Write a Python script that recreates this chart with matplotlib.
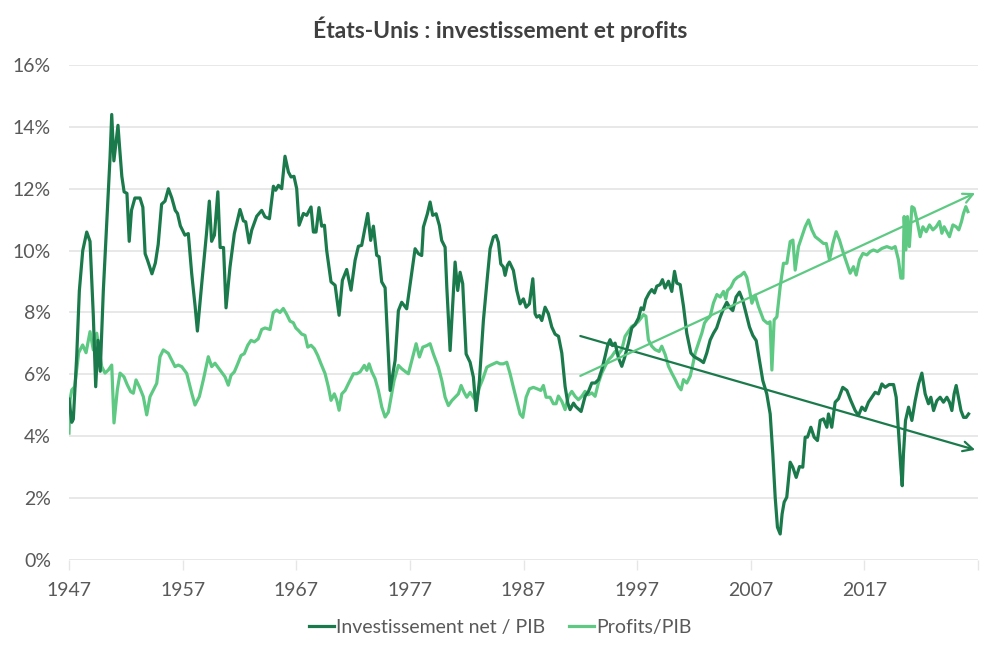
import numpy as np
import matplotlib
matplotlib.use("Agg")
import matplotlib.pyplot as plt
import matplotlib.ticker as mtick

# ── Couleurs ──────────────────────────────────────────────────────────────────
C_INV = "#1b7a4b"
C_PROF = "#5ec983"
C_GRID = "#e6e6e6"
C_TXT = "#595959"
FONT = "Lato"

plt.rcParams["font.family"] = [FONT, "DejaVu Sans"]

# ── Données ───────────────────────────────────────────────────────────────────
annees_inv = [
    1947.0, 1947.24, 1947.38, 1947.68, 1947.91, 1948.21, 1948.56, 1948.85, 1949.14, 1949.35,
    1949.55, 1949.75, 1950.02, 1950.32, 1950.61, 1950.76, 1950.95, 1951.31, 1951.45, 1951.65,
    1951.85, 1952.1, 1952.3, 1952.5, 1952.8, 1953.25, 1953.5, 1953.7, 1953.9, 1954.3,
    1954.6, 1954.85, 1955.15, 1955.45, 1955.75, 1956.05, 1956.35, 1956.55, 1956.8, 1957.2,
    1957.5, 1957.8, 1958.1, 1958.3, 1958.7, 1959.1, 1959.35, 1959.55, 1959.8, 1960.1,
    1960.3, 1960.6, 1960.82, 1961.17, 1961.55, 1962.05, 1962.35, 1962.55, 1962.85, 1963.08,
    1963.52, 1963.96, 1964.25, 1964.64, 1964.99, 1965.19, 1965.43, 1965.72, 1966.01, 1966.31,
    1966.54, 1966.8, 1967.04, 1967.25, 1967.63, 1967.92, 1968.3, 1968.51, 1968.74, 1969.0,
    1969.24, 1969.48, 1969.68, 1970.06, 1970.42, 1970.77, 1971.06, 1971.44, 1971.82, 1972.18,
    1972.47, 1972.76, 1973.29, 1973.55, 1973.79, 1974.08, 1974.29, 1974.52, 1974.82, 1975.26,
    1975.7, 1975.99, 1976.28, 1976.72, 1977.07, 1977.46, 1977.75, 1978.04, 1978.19, 1978.54,
    1978.78, 1979.01, 1979.31, 1979.6, 1979.8, 1980.1, 1980.25, 1980.54, 1980.77, 1980.98,
    1981.21, 1981.42, 1981.65, 1981.95, 1982.3, 1982.59, 1982.83, 1983.12, 1983.47, 1983.82,
    1984.06, 1984.35, 1984.59, 1984.79, 1985.0, 1985.23, 1985.38, 1985.58, 1985.76, 1986.11,
    1986.41, 1986.7, 1986.99, 1987.23, 1987.52, 1987.82, 1988.02, 1988.17, 1988.4, 1988.61,
    1988.9, 1989.19, 1989.49, 1989.78, 1990.08, 1990.37, 1990.66, 1990.9, 1991.1, 1991.4,
    1991.6, 1992.07, 1992.42, 1992.72, 1993.01, 1993.3, 1993.6, 1993.89, 1994.18, 1994.42,
    1994.62, 1994.83, 1995.06, 1995.36, 1995.65, 1995.89, 1996.24, 1996.53, 1996.82, 1997.12,
    1997.35, 1997.56, 1997.76, 1998.06, 1998.29, 1998.53, 1998.73, 1999.02, 1999.23, 1999.46,
    1999.76, 2000.05, 2000.29, 2000.49, 2000.79, 2001.08, 2001.37, 2001.73, 2002.02, 2002.26,
    2002.55, 2002.84, 2003.13, 2003.43, 2003.72, 2004.0, 2004.31, 2004.6, 2004.89, 2005.13,
    2005.42, 2005.71, 2006.01, 2006.3, 2006.6, 2006.89, 2007.18, 2007.48, 2007.77, 2008.06,
    2008.41, 2008.71, 2008.94, 2009.15, 2009.35, 2009.59, 2009.76, 2009.94, 2010.17, 2010.47,
    2010.7, 2011.0, 2011.29, 2011.58, 2011.79, 2011.99, 2012.29, 2012.58, 2012.87, 2013.11,
    2013.4, 2013.7, 2013.84, 2014.13, 2014.43, 2014.72, 2015.1, 2015.46, 2015.81, 2016.19,
    2016.48, 2016.78, 2017.07, 2017.36, 2017.66, 2017.95, 2018.24, 2018.54, 2018.83, 2019.18,
    2019.57, 2019.8, 2020.0, 2020.21, 2020.33, 2020.44, 2020.62, 2020.89, 2021.18, 2021.47,
    2021.77, 2022.06, 2022.35, 2022.64, 2022.85, 2023.09, 2023.38, 2023.67, 2023.96, 2024.26,
    2024.49, 2024.7, 2024.9, 2025.08, 2025.28, 2025.5, 2025.73, 2025.96, 2026.17,
]
invest_pib = [
    5.2, 4.45, 4.55, 6.6, 8.7, 10.0, 10.6, 10.3, 7.9, 5.6,
    7.1, 6.1, 8.7, 10.9, 13.0, 14.4, 12.9, 14.05, 13.35, 12.4,
    11.9, 11.85, 10.3, 11.3, 11.7, 11.7, 11.4, 9.9, 9.7, 9.25,
    9.6, 10.2, 11.5, 11.6, 12.0, 11.7, 11.3, 11.2, 10.8, 10.5,
    10.55, 9.25, 8.2, 7.4, 9.0, 10.55, 11.6, 10.3, 10.5, 11.9,
    10.1, 10.1, 8.15, 9.47, 10.55, 11.33, 10.96, 10.93, 10.25, 10.66,
    11.11, 11.3, 11.09, 11.03, 12.08, 11.95, 12.11, 12.0, 13.05, 12.54,
    12.38, 12.4, 12.0, 10.82, 11.2, 11.14, 11.41, 10.6, 10.6, 11.39,
    10.79, 10.82, 10.0, 8.99, 8.88, 7.91, 9.04, 9.39, 8.72, 9.69,
    10.14, 10.17, 11.2, 10.33, 10.79, 9.85, 9.8, 8.99, 8.8, 5.48,
    6.45, 8.06, 8.33, 8.12, 9.03, 10.06, 9.9, 9.84, 10.76, 11.19,
    11.57, 11.14, 11.19, 10.81, 10.33, 10.11, 8.82, 6.77, 8.28, 9.63,
    8.71, 9.3, 8.93, 6.66, 6.39, 5.91, 4.83, 5.8, 7.74, 9.14,
    10.06, 10.44, 10.49, 10.27, 9.57, 9.47, 9.2, 9.52, 9.63, 9.36,
    8.71, 8.28, 8.44, 8.17, 8.28, 9.09, 7.96, 7.85, 7.9, 7.74,
    8.17, 7.96, 7.53, 7.3, 7.23, 6.69, 5.61, 5.07, 4.86, 5.07,
    4.96, 4.8, 5.29, 5.45, 5.72, 5.72, 5.83, 6.15, 6.58, 6.96,
    7.12, 6.93, 7.01, 6.53, 6.26, 6.53, 7.01, 7.5, 7.61, 7.82,
    8.15, 8.09, 8.42, 8.63, 8.74, 8.63, 8.85, 8.9, 9.06, 8.79,
    9.01, 8.68, 9.33, 8.95, 8.9, 8.2, 7.33, 6.69, 6.57, 6.52,
    6.46, 6.38, 6.69, 7.11, 7.33, 7.5, 7.85, 8.12, 8.33, 8.17,
    8.06, 8.5, 8.66, 8.39, 7.96, 7.53, 7.26, 7.09, 6.45, 5.8,
    5.37, 4.72, 3.43, 2.03, 1.06, 0.84, 1.49, 1.87, 2.03, 3.16,
    3.0, 2.67, 3.02, 3.0, 3.97, 3.97, 4.29, 3.97, 3.86, 4.51,
    4.56, 4.29, 4.72, 4.29, 5.1, 5.21, 5.58, 5.48, 5.15, 4.83,
    4.67, 4.94, 4.83, 5.1, 5.26, 5.42, 5.37, 5.69, 5.58, 5.67,
    5.67, 5.26, 4.18, 2.99, 2.4, 3.43, 4.51, 4.94, 4.51, 5.15,
    5.69, 6.04, 5.37, 5.05, 5.26, 4.83, 5.15, 5.26, 5.1, 5.26,
    5.1, 4.83, 5.37, 5.64, 5.26, 4.83, 4.61, 4.61, 4.72,
]

annees_prof = [
    1947.0, 1947.1, 1947.25, 1947.5, 1947.85, 1948.2, 1948.5, 1948.85, 1949.14, 1949.44,
    1949.88, 1950.17, 1950.46, 1950.76, 1950.96, 1951.25, 1951.49, 1951.84, 1952.13, 1952.43,
    1952.66, 1952.9, 1953.19, 1953.54, 1953.84, 1954.13, 1954.42, 1954.72, 1955.01, 1955.3,
    1955.74, 1956.04, 1956.33, 1956.62, 1956.92, 1957.36, 1957.8, 1958.09, 1958.47, 1958.82,
    1959.26, 1959.56, 1959.85, 1960.29, 1960.73, 1961.02, 1961.26, 1961.55, 1961.85, 1962.14,
    1962.43, 1962.73, 1963.02, 1963.31, 1963.66, 1963.96, 1964.25, 1964.69, 1964.98, 1965.28,
    1965.57, 1965.86, 1966.16, 1966.45, 1966.74, 1966.96, 1967.19, 1967.48, 1967.77, 1968.01,
    1968.3, 1968.59, 1968.89, 1969.18, 1969.54, 1969.83, 1970.06, 1970.35, 1970.57, 1970.77,
    1971.01, 1971.3, 1971.59, 1972.03, 1972.33, 1972.62, 1972.99, 1973.21, 1973.41, 1973.65,
    1973.94, 1974.23, 1974.53, 1974.82, 1975.11, 1975.35, 1975.61, 1975.99, 1976.29, 1976.67,
    1976.87, 1977.17, 1977.55, 1977.84, 1978.14, 1978.49, 1978.78, 1979.07, 1979.51, 1979.81,
    1980.1, 1980.39, 1980.69, 1980.98, 1981.27, 1981.51, 1981.77, 1982.01, 1982.3, 1982.59,
    1982.83, 1983.12, 1983.42, 1983.77, 1984.06, 1984.35, 1984.65, 1984.94, 1985.23, 1985.53,
    1985.82, 1986.11, 1986.41, 1986.7, 1986.94, 1987.23, 1987.52, 1987.87, 1988.22, 1988.52,
    1988.75, 1988.99, 1989.34, 1989.63, 1989.87, 1990.07, 1990.37, 1990.66, 1990.95, 1991.25,
    1991.54, 1991.83, 1992.13, 1992.42, 1992.71, 1993.01, 1993.3, 1993.59, 1993.89, 1994.18,
    1994.47, 1994.77, 1995.06, 1995.35, 1995.65, 1995.94, 1996.23, 1996.53, 1996.82, 1997.11,
    1997.35, 1997.56, 1997.77, 1997.99, 1998.29, 1998.58, 1998.94, 1999.17, 1999.47, 1999.76,
    2000.05, 2000.35, 2000.64, 2000.87, 2001.08, 2001.37, 2001.67, 2001.87, 2002.11, 2002.4,
    2002.7, 2002.93, 2003.14, 2003.43, 2003.72, 2004.02, 2004.31, 2004.6, 2004.8, 2004.95,
    2005.25, 2005.54, 2005.83, 2006.13, 2006.42, 2006.65, 2006.89, 2007.1, 2007.39, 2007.68,
    2008.12, 2008.47, 2008.7, 2008.86, 2009.06, 2009.3, 2009.59, 2009.88, 2010.18, 2010.47,
    2010.71, 2010.91, 2011.2, 2011.79, 2012.08, 2012.38, 2012.67, 2013.05, 2013.4, 2013.65,
    2013.93, 2014.23, 2014.52, 2014.81, 2015.16, 2015.46, 2015.75, 2016.04, 2016.28, 2016.57,
    2016.87, 2017.22, 2017.51, 2017.8, 2018.15, 2018.54, 2018.98, 2019.42, 2019.71, 2020.0,
    2020.21, 2020.39, 2020.5, 2020.65, 2020.79, 2020.96, 2021.18, 2021.38, 2021.62, 2021.91,
    2022.15, 2022.44, 2022.73, 2023.03, 2023.32, 2023.61, 2023.82, 2024.02, 2024.49, 2024.79,
    2025.08, 2025.31, 2025.55, 2025.72, 2025.93, 2026.11,
]
profits_pib = [
    4.1, 5.2, 5.5, 5.6, 6.7, 6.95, 6.7, 7.38, 6.79, 7.33,
    6.25, 6.04, 6.14, 6.3, 4.43, 5.49, 6.04, 5.92, 5.66, 5.44,
    5.39, 5.82, 5.6, 5.28, 4.69, 5.28, 5.49, 5.71, 6.57, 6.79,
    6.68, 6.46, 6.25, 6.3, 6.25, 6.03, 5.39, 5.01, 5.28, 5.82,
    6.57, 6.25, 6.36, 6.14, 5.92, 5.65, 5.97, 6.08, 6.34, 6.61,
    6.67, 6.94, 7.1, 7.05, 7.15, 7.45, 7.5, 7.45, 8.0, 8.08,
    8.0, 8.13, 7.94, 7.72, 7.67, 7.5, 7.42, 7.3, 7.26, 6.88,
    6.94, 6.83, 6.61, 6.34, 6.02, 5.59, 5.16, 5.37, 5.16, 4.84,
    5.37, 5.48, 5.7, 6.02, 6.02, 6.08, 6.29, 6.13, 6.34, 6.08,
    5.86, 5.48, 4.94, 4.62, 4.78, 5.27, 5.8, 6.29, 6.18, 6.07,
    6.02, 6.45, 6.99, 6.56, 6.88, 6.93, 6.99, 6.66, 6.23, 5.8,
    5.26, 4.99, 5.15, 5.26, 5.37, 5.64, 5.42, 5.26, 5.42, 5.26,
    5.15, 5.58, 5.85, 6.23, 6.29, 6.34, 6.39, 6.34, 6.34, 6.39,
    6.02, 5.58, 5.15, 4.72, 4.61, 5.26, 5.53, 5.58, 5.53, 5.48,
    5.64, 5.26, 5.26, 5.05, 5.05, 5.3, 5.13, 4.86, 5.29, 5.45,
    5.29, 5.18, 5.29, 5.45, 5.34, 5.4, 5.29, 5.72, 6.04, 6.26,
    6.47, 6.58, 6.74, 6.64, 6.8, 7.23, 7.39, 7.55, 7.61, 7.71,
    7.82, 7.93, 7.88, 7.12, 6.91, 6.8, 6.74, 6.91, 6.64, 6.26,
    6.04, 5.83, 5.61, 5.5, 5.83, 5.72, 5.94, 6.26, 6.69, 7.01,
    7.34, 7.66, 7.77, 7.88, 8.31, 8.58, 8.5, 8.68, 8.44, 8.71,
    8.82, 9.04, 9.14, 9.2, 9.3, 9.14, 8.73, 8.3, 8.56, 8.19,
    7.76, 7.65, 7.7, 6.14, 7.76, 7.86, 8.83, 9.59, 9.59, 10.29,
    10.34, 9.37, 10.13, 10.77, 10.99, 10.67, 10.45, 10.34, 10.23, 10.23,
    9.7, 10.23, 10.61, 10.34, 9.91, 9.59, 9.27, 9.48, 9.21, 9.7,
    9.91, 9.86, 9.97, 10.02, 9.97, 10.07, 10.13, 10.07, 10.13, 9.7,
    9.11, 9.11, 11.1, 10.02, 11.1, 10.13, 11.42, 11.37, 10.99, 10.45,
    10.77, 10.61, 10.83, 10.67, 10.77, 10.94, 10.56, 10.77, 10.45, 10.83,
    10.77, 10.67, 10.94, 11.2, 11.42, 11.26,
]

# flèches de tendance : (année, %) début -> fin
tendance_inv = [(1992.0, 7.24), (2026.75, 3.56)]
tendance_prof = [(1992.0, 5.95), (2026.75, 11.86)]

annees_ticks = [1947, 1957, 1967, 1977, 1987, 1997, 2007, 2017, 2027]
labels_ticks = ["1947", "1957", "1967", "1977", "1987", "1997", "2007", "2017", ""]

# ── Figure ────────────────────────────────────────────────────────────────────
fig = plt.figure(figsize=(10, 6.51), dpi=100, facecolor="white")
ax = fig.add_axes([0.069, 0.1398, 0.909, 0.7604])
ax.set_facecolor("white")

ax.plot(annees_prof, profits_pib, color=C_PROF, linewidth=2.3, zorder=3,
        label="Profits/PIB", solid_joinstyle="round")
ax.plot(annees_inv, invest_pib, color=C_INV, linewidth=2.3, zorder=4,
        label="Investissement net / PIB", solid_joinstyle="round")

for (x0, y0), (x1, y1), col in [(*tendance_inv, C_INV), (*tendance_prof, C_PROF)]:
    ax.annotate("", xy=(x1, y1), xytext=(x0, y0), zorder=5,
                arrowprops=dict(arrowstyle="->,head_length=0.7,head_width=0.35",
                                color=col, linewidth=1.6, shrinkA=0, shrinkB=0))

ax.set_xlim(1947, 2027)
ax.set_ylim(0, 16)
ax.yaxis.set_major_locator(mtick.MultipleLocator(2))
ax.yaxis.set_major_formatter(mtick.FuncFormatter(lambda v, p: f"{v:.0f}%"))
ax.set_xticks(annees_ticks)
ax.set_xticklabels(labels_ticks)

ax.grid(axis="y", color=C_GRID, linewidth=1.3)
ax.set_axisbelow(True)
for s in ["top", "right", "left", "bottom"]:
    ax.spines[s].set_visible(False)

ax.tick_params(axis="y", length=0, pad=13, labelsize=14, labelcolor=C_TXT)
ax.tick_params(axis="x", length=7, width=1, color=C_GRID, pad=9,
               labelsize=14, labelcolor=C_TXT)

fig.suptitle("États-Unis : investissement et profits", x=0.5, y=0.975,
             fontsize=16.5, fontweight="bold", color="#404040")

handles, labels = ax.get_legend_handles_labels()
leg = fig.legend(handles[::-1], labels[::-1], loc="center", bbox_to_anchor=(0.5, 0.036),
                 ncol=2, frameon=False, fontsize=14, handlelength=1.3,
                 handletextpad=0.1, columnspacing=1.2)
for t in leg.get_texts():
    t.set_color(C_TXT)

fig.savefig("out.png", dpi=100, facecolor="white")
